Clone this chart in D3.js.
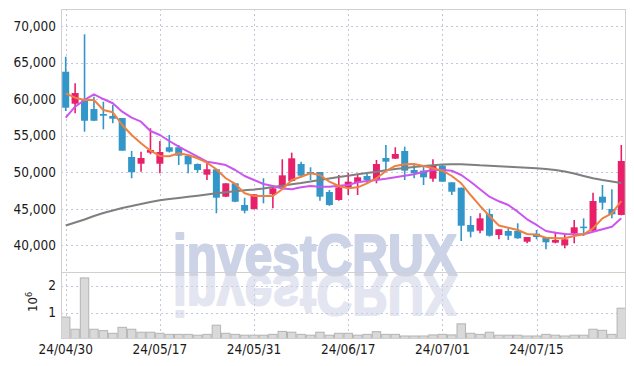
<!DOCTYPE html>
<html><head><meta charset="utf-8">
<script src="https://cdn.jsdelivr.net/npm/d3@7"></script>
<style>html,body{margin:0;padding:0;background:#fff;}svg{display:block;}</style>
</head><body><svg id="c" width="634" height="366" xmlns:xlink="http://www.w3.org/1999/xlink"></svg>
<script>
const dates = ["24/04/30","24/05/02","24/05/03","24/05/07","24/05/08","24/05/09","24/05/10","24/05/13","24/05/14","24/05/16",
"24/05/17","24/05/20","24/05/21","24/05/22","24/05/23","24/05/24","24/05/27","24/05/28","24/05/29","24/05/30",
"24/05/31","24/06/03","24/06/04","24/06/05","24/06/07","24/06/10","24/06/11","24/06/12","24/06/13","24/06/14",
"24/06/17","24/06/18","24/06/19","24/06/20","24/06/21","24/06/24","24/06/25","24/06/26","24/06/27","24/06/28",
"24/07/01","24/07/02","24/07/03","24/07/04","24/07/05","24/07/08","24/07/09","24/07/10","24/07/11","24/07/12",
"24/07/15","24/07/16","24/07/17","24/07/18","24/07/19","24/07/22","24/07/23","24/07/24","24/07/25","24/07/26"];
const open  = [63750,59370,59840,58640,57960,57690,57410,52080,51160,52670,51160,53410,53410,52260,51120,49660,50400,46650,48480,45510,
44970,46880,46980,47930,48800,51120,50030,50030,47290,46200,47930,48560,49480,49070,51940,51850,52900,50300,50210,49110,
50890,48620,47880,42780,42000,44280,41410,41960,41960,40490,41590,41040,40360,40000,41640,42550,42000,46650,44970,44150];
const high  = [65800,62160,68860,60330,59640,59190,57410,52900,52800,56010,54270,55090,53720,52300,51200,51440,50400,48500,48500,46510,
47000,49170,48250,51770,52670,51440,50670,50030,47560,49620,49930,49750,49850,51670,53720,53410,53490,50990,50760,51770,
51000,48620,47900,44000,44380,45010,42200,42410,43010,41150,42090,41050,41860,41640,43460,43690,47200,48250,47660,53720];
const low   = [58370,58060,55540,57000,55870,56700,52940,49170,50070,52450,49850,52700,50990,49850,49930,48930,44380,46600,45900,44380,
44900,45740,45060,47900,48700,49400,48930,46100,45400,46100,46880,46880,48480,48480,50300,51800,48930,49170,48250,48700,
48700,46880,40590,41090,41640,41200,40820,40730,40900,40270,40820,39450,40270,39590,40270,41270,41950,44920,43690,44100];
const close = [58820,60830,57040,57040,57730,57320,52940,49990,51940,53040,52760,52810,52260,51080,50300,50400,46510,48480,45960,44730,
46980,46650,47800,49570,51900,49520,49890,46650,45510,47930,48700,49300,48930,51120,51440,52490,50210,49850,49300,50850,
48700,47330,42680,41860,43690,41310,42190,41310,40960,41130,41130,40410,40730,40820,42460,42410,46060,45830,44240,51530];
const ma5   = [60790,60190,59880,59880,58510,58190,56460,55090,53950,52940,52220,52180,52590,52350,51900,51300,50400,49170,48390,47110,
46740,46740,46740,47660,48930,49380,49850,49620,48700,48110,47800,47930,48480,49170,50140,50850,51080,51120,50850,50530,
50200,49480,48480,46880,45380,44010,42710,42410,42090,41550,41450,41040,40960,40960,41270,41500,42330,43690,44380,46060];
const ma20  = [57460,58960,59880,60660,60010,59430,58280,57460,56910,55640,55090,54270,53490,52800,52120,51440,51220,50980,50300,49480,
48930,48390,48110,47770,47660,47930,48110,48020,48020,48150,48250,48620,48800,48930,49100,49300,49520,49710,50070,50300,
50300,50200,49620,48700,47660,46650,46020,45510,44600,43560,42780,41960,41720,41550,41500,41500,41860,42190,42540,43690];
const ma60  = [42710,43120,43530,44010,44420,44760,45100,45380,45650,45920,46160,46330,46470,46630,46790,46950,47110,47250,47390,47520,
47630,47770,47980,48150,48340,48520,48730,48930,49140,49340,49520,49710,49890,50070,50260,50440,50570,50710,50850,50940,
51050,51080,51080,51030,50940,50880,50810,50740,50670,50600,50530,50440,50300,50100,49820,49480,49170,48930,48730,48520];
const volume = [0.83,0.38,2.28,0.38,0.33,0.23,0.45,0.38,0.27,0.27,0.23,0.19,0.19,0.19,0.16,0.19,0.53,0.23,0.19,0.16,
0.16,0.16,0.19,0.30,0.27,0.19,0.16,0.27,0.16,0.23,0.23,0.16,0.19,0.29,0.19,0.19,0.13,0.13,0.13,0.17,
0.19,0.17,0.58,0.23,0.19,0.27,0.16,0.16,0.16,0.13,0.13,0.19,0.16,0.13,0.16,0.16,0.38,0.34,0.19,1.16].map(v=>v*1e6);
const priceTicks = [40000,45000,50000,55000,60000,65000,70000];
const volTicks = [1e6,2e6];
const xTickIdx = [0,10,20,30,40,50];

const N = dates.length;
const svg = d3.select("#c");
const L = 61, R = 626, PT = 9, PB = 272, VT = 273, VB = 338;
const UP = "#e8206a", DOWN = "#3396c8";
const FONT = "'DejaVu Sans Condensed','DejaVu Sans',sans-serif";

const x = d3.scaleBand().domain(d3.range(N)).range([L, R]);
const cx = i => x(i) + x.bandwidth()/2;
const y = d3.scaleLinear().domain([36347, 72326]).range([PB, PT]);
const yv = d3.scaleLinear().domain([0, 2.463e6]).range([339.5, VT]);

const defs = svg.append("defs");
defs.append("clipPath").attr("id","pclip").append("rect").attr("x",L).attr("y",PT).attr("width",R-L).attr("height",PB-PT);
defs.append("clipPath").attr("id","vclip").append("rect").attr("x",L).attr("y",VT).attr("width",R-L).attr("height",VB-VT);

const grid = svg.append("g").attr("stroke","#c4c6dc").attr("stroke-dasharray","2,3").attr("stroke-width",1);
priceTicks.forEach(t=>grid.append("line").attr("x1",L).attr("x2",R).attr("y1",Math.round(y(t))+0.5).attr("y2",Math.round(y(t))+0.5));
volTicks.forEach(t=>grid.append("line").attr("x1",L).attr("x2",R).attr("y1",Math.round(yv(t))+0.5).attr("y2",Math.round(yv(t))+0.5));
xTickIdx.forEach(i=>grid.append("line").attr("x1",Math.round(cx(i))+0.5).attr("x2",Math.round(cx(i))+0.5).attr("y1",PT).attr("y2",VB));

// watermark (text + mirrored reflection drawn via <use>)
const wm = svg.append("g");
wm.append("text").attr("id","wmText").attr("x",173).attr("y",275).attr("textLength",284).attr("lengthAdjust","spacingAndGlyphs")
  .attr("font-family","'Liberation Sans',Arial,sans-serif").attr("font-weight","bold").attr("font-size",58)
  .attr("fill","#cdd3e7").attr("stroke","#cdd3e7").attr("stroke-width",2.2).attr("stroke-linejoin","round")
  .text("investCRUX");
wm.append("g").attr("clip-path","url(#vclip)").append("use")
  .attr("href","#wmText").attr("xlink:href","#wmText")
  .attr("transform","translate(0,550) scale(1,-1)").attr("opacity",0.55);

// volume
svg.append("g").attr("clip-path","url(#vclip)").selectAll("rect").data(volume).join("rect")
  .attr("x",(d,i)=>x(i)+0.5).attr("width",x.bandwidth()-1)
  .attr("y",d=>yv(d)).attr("height",d=>yv(0)-yv(d))
  .attr("fill","#d9d9d9").attr("stroke","#b4b4b4").attr("stroke-width",1);

// candles
const cg = svg.append("g").attr("clip-path","url(#pclip)");
const bw = 7;
d3.range(N).forEach(i=>{
  const up = close[i] >= open[i];
  const col = up ? UP : DOWN;
  cg.append("line").attr("x1",cx(i)).attr("x2",cx(i)).attr("y1",y(high[i])).attr("y2",y(low[i]))
    .attr("stroke",col).attr("stroke-width",1.6);
  const top = y(Math.max(open[i],close[i])), bot = y(Math.min(open[i],close[i]));
  cg.append("rect").attr("x",cx(i)-bw/2).attr("width",bw).attr("y",top).attr("height",Math.max(1.5,bot-top))
    .attr("fill",col);
});

// moving averages
const line = d3.line().x((d,i)=>cx(i)).y(d=>y(d)).curve(d3.curveLinear);
const mg = svg.append("g").attr("clip-path","url(#pclip)").attr("fill","none").attr("stroke-width",2).attr("stroke-linejoin","round");
mg.append("path").attr("d",line(ma60)).attr("stroke","#7f7f7f");
mg.append("path").attr("d",line(ma20)).attr("stroke","#cc55ee");
mg.append("path").attr("d",line(ma5)).attr("stroke","#ee8040");

// frame
const fr = svg.append("g").attr("stroke","#d0d0d0").attr("stroke-width",1).attr("fill","none");
fr.append("rect").attr("x",L+0.5).attr("y",PT+0.5).attr("width",R-L-1).attr("height",VB-PT);
fr.append("line").attr("x1",L).attr("x2",R).attr("y1",PB+0.5).attr("y2",PB+0.5);

// axes
const ay = svg.append("g").attr("transform",`translate(${L-5},0)`)
  .call(d3.axisLeft(y).tickValues(priceTicks).tickFormat(d3.format(",")).tickSize(0).tickPadding(0));
ay.select(".domain").remove();
ay.selectAll("text").attr("font-family",FONT).attr("font-size",13.5).attr("fill","#1a1a1a");

const av = svg.append("g").attr("transform",`translate(${L-5},0)`)
  .call(d3.axisLeft(yv).tickValues(volTicks).tickFormat(d=>d/1e6).tickSize(0).tickPadding(0));
av.select(".domain").remove();
av.selectAll("text").attr("font-family",FONT).attr("font-size",13.5).attr("fill","#1a1a1a");

const ax = svg.append("g").attr("transform",`translate(0,${VB})`)
  .call(d3.axisBottom(x).tickValues(xTickIdx).tickFormat(i=>dates[i]).tickSize(0).tickPadding(6));
ax.select(".domain").remove();
ax.selectAll("text").attr("font-family",FONT).attr("font-size",13.5).attr("fill","#1a1a1a");

const ut = svg.append("text").attr("transform","translate(37,312) rotate(-90)")
  .attr("font-family",FONT).attr("font-size",13).attr("fill","#222");
ut.append("tspan").text("10");
ut.append("tspan").attr("dy",-5).attr("font-size",9).text("6");
</script></body></html>
